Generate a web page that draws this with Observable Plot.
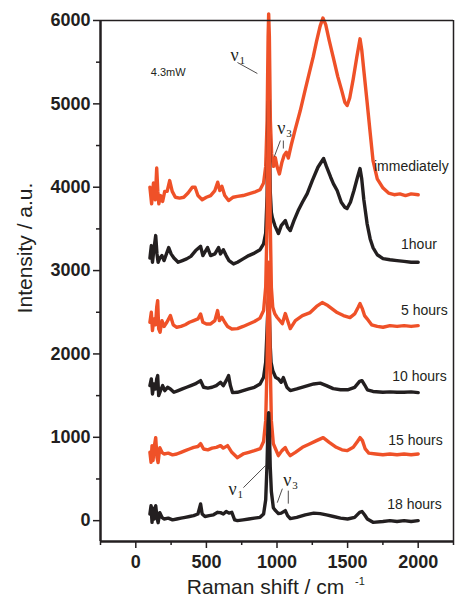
<!DOCTYPE html>
<html>
<head>
<meta charset="utf-8">
<script src="https://cdn.jsdelivr.net/npm/d3@7"></script>
<script src="https://cdn.jsdelivr.net/npm/@observablehq/plot@0.6"></script>
<style>
  html, body { margin: 0; padding: 0; background: #fff; }
  #chart { width: 457px; height: 598px; }
</style>
</head>
<body>
<div id="chart"></div>
<script>
// ---- data (Raman shift cm^-1, intensity a.u.) ----
const immediately = [
  [100,4000],[112,3800],[125,4050],[138,3850],[148,4230],[156,3950],[163,3800],[175,3900],[190,3830],[205,3950],[222,3950],[240,4080],[258,3950],[280,3880],[310,3870],[340,3880],[370,3930],[400,4000],[420,4000],[440,3900],[470,3850],[500,3880],[530,3900],[560,3960],[580,4060],[595,3960],[610,4010],[630,3900],[657,3840],[690,3880],[720,3890],[760,3900],[800,3920],[840,3940],[880,3970],[905,4050],[920,4250],[930,4800],[937,5800],[941,6080],[946,5800],[953,4800],[962,4400],[975,4250],[988,4356],[1000,4250],[1017,4160],[1035,4300],[1050,4380],[1066,4420],[1080,4350],[1100,4500],[1130,4700],[1165,4920],[1200,5170],[1230,5380],[1256,5560],[1280,5750],[1305,5930],[1325,6030],[1345,5950],[1370,5760],[1398,5560],[1430,5330],[1460,5150],[1480,5020],[1497,4980],[1515,5070],[1540,5300],[1565,5560],[1588,5780],[1600,5650],[1615,5400],[1637,5040],[1660,4650],[1680,4320],[1710,4100],[1751,3990],[1790,3930],[1830,3910],[1870,3920],[1910,3900],[1950,3920],[2000,3910]
];
const hour1 = [
  [100,3150],[110,3300],[118,3100],[128,3250],[141,3420],[150,3200],[158,3100],[170,3150],[185,3180],[200,3120],[233,3276],[250,3200],[270,3150],[300,3100],[330,3120],[360,3140],[390,3170],[424,3240],[459,3290],[475,3180],[508,3276],[530,3180],[560,3200],[586,3276],[600,3200],[620,3250],[640,3180],[660,3120],[692,3080],[720,3100],[760,3140],[800,3180],[840,3210],[880,3250],[905,3320],[920,3450],[930,3900],[936,4600],[941,5040],[946,4600],[952,3950],[960,3700],[967,3636],[985,3540],[1010,3444],[1030,3540],[1059,3600],[1075,3520],[1094,3480],[1120,3600],[1150,3720],[1180,3820],[1214,3924],[1250,4080],[1290,4240],[1330,4344],[1350,4250],[1380,4120],[1400,4040],[1426,3960],[1455,3820],[1480,3760],[1496,3744],[1520,3820],[1545,3960],[1570,4120],[1588,4224],[1600,4100],[1615,3850],[1638,3564],[1660,3380],[1680,3276],[1710,3190],[1751,3144],[1800,3130],[1850,3120],[1900,3110],[1950,3100],[2000,3100]
];
const hours5 = [
  [100,2380],[110,2500],[118,2280],[128,2420],[140,2350],[148,2560],[155,2640],[162,2300],[172,2260],[185,2400],[200,2330],[220,2380],[245,2460],[265,2350],[290,2320],[320,2330],[350,2350],[380,2380],[410,2400],[440,2420],[459,2480],[475,2380],[500,2360],[530,2360],[560,2400],[579,2520],[592,2400],[610,2440],[630,2380],[650,2330],[680,2300],[720,2304],[760,2330],[800,2360],[840,2390],[880,2430],[905,2520],[920,2800],[930,3600],[936,4600],[941,5100],[946,4600],[952,3600],[960,2800],[970,2560],[985,2480],[1000,2440],[1038,2364],[1059,2484],[1075,2400],[1094,2304],[1130,2400],[1180,2460],[1235,2496],[1280,2570],[1320,2616],[1360,2580],[1426,2496],[1470,2460],[1517,2436],[1550,2480],[1575,2560],[1588,2604],[1605,2540],[1620,2460],[1637,2424],[1670,2350],[1710,2330],[1751,2320],[1800,2340],[1850,2330],[1900,2340],[1950,2330],[2000,2340]
];
const hours10 = [
  [100,1620],[110,1700],[118,1520],[128,1640],[140,1580],[148,1700],[155,1740],[162,1500],[175,1560],[190,1620],[205,1560],[225,1600],[245,1580],[270,1540],[300,1560],[330,1580],[360,1600],[390,1620],[420,1640],[459,1680],[480,1600],[510,1590],[540,1600],[570,1620],[600,1660],[620,1620],[640,1680],[657,1740],[670,1620],[685,1536],[720,1540],[760,1560],[800,1580],[840,1600],[880,1640],[905,1720],[920,1900],[930,2300],[937,2600],[941,2676],[946,2450],[952,2100],[958,1900],[970,1800],[990,1720],[1010,1700],[1030,1660],[1045,1716],[1070,1600],[1094,1560],[1140,1580],[1200,1610],[1260,1640],[1306,1650],[1350,1620],[1398,1584],[1450,1570],[1500,1570],[1550,1600],[1585,1670],[1602,1680],[1620,1630],[1640,1570],[1680,1550],[1750,1540],[1800,1545],[1850,1540],[1900,1540],[1950,1545],[2000,1536]
];
const hours15 = [
  [100,820],[108,700],[115,900],[122,720],[130,880],[141,996],[150,760],[158,696],[170,876],[185,820],[200,800],[230,810],[260,790],[290,800],[320,820],[350,840],[380,860],[410,880],[440,890],[459,924],[480,860],[510,850],[540,870],[570,880],[600,900],[620,870],[650,900],[680,820],[720,756],[760,800],[800,820],[840,840],[882,864],[905,950],[920,1200],[930,1900],[936,2700],[941,3100],[946,2700],[952,1900],[960,1200],[974,924],[990,860],[1010,780],[1035,840],[1059,876],[1075,820],[1094,780],[1130,820],[1180,880],[1230,920],[1280,960],[1327,996],[1370,940],[1420,880],[1460,850],[1496,840],[1540,880],[1570,950],[1588,996],[1605,960],[1625,860],[1650,810],[1700,800],[1750,790],[1800,800],[1850,790],[1900,800],[1950,790],[2000,800]
];
const hours18 = [
  [100,80],[108,180],[115,-20],[122,150],[130,20],[141,180],[150,40],[158,-24],[170,96],[185,40],[200,20],[230,30],[260,10],[290,20],[320,30],[350,40],[380,50],[410,60],[440,80],[459,200],[470,80],[490,50],[520,60],[550,70],[580,100],[600,96],[620,80],[640,110],[660,90],[680,100],[700,10],[720,0],[760,10],[800,20],[840,30],[880,40],[905,80],[920,250],[930,700],[936,1150],[941,1296],[946,1100],[952,650],[960,350],[974,156],[990,120],[1010,84],[1030,90],[1059,120],[1075,60],[1094,24],[1140,40],[1200,70],[1260,90],[1306,84],[1350,70],[1400,50],[1450,30],[1500,20],[1550,40],[1585,100],[1602,110],[1620,70],[1640,20],[1680,-20],[1750,-10],[1800,0],[1850,-10],[1900,0],[1950,-10],[2000,0]
];

const seriesNames = ["immediately", "1hour", "5 hours", "10 hours", "15 hours", "18 hours"];
// label anchor (right end) in data units
const labelX = [2216, 2132, 2209, 2202, 2174, 2167];
const labelY = [4248, 3312, 2520, 1728, 960, 192];

const xTicks = [0, 500, 1000, 1500, 2000];
const xMinorTicks = [-250, 250, 750, 1250, 1750, 2250];
const yTicks = [0, 1000, 2000, 3000, 4000, 5000, 6000];
const yMinorTicks = [500, 1500, 2500, 3500, 4500, 5500];
const frameX = [-250, 2250];
const frameY = [-250, 6000];

const powerNote = {x: 106, y: 5376, text: "4.3mW"};
const nuLabels = [
  {x: 671, y: 5580, sub: "1"},
  {x: 1002, y: 4704, sub: "3"},
  {x: 656, y: 372, sub: "1"},
  {x: 1045, y: 480, sub: "3"}
];
const leaders = [
  {x1: 720, y1: 5496, x2: 861, y2: 5364},
  {x1: 1024, y1: 4560, x2: 981, y2: 4368},
  {x1: 1045, y1: 4560, x2: 1045, y2: 4464},
  {x1: 762, y1: 396, x2: 918, y2: 660},
  {x1: 1038, y1: 384, x2: 1002, y2: 216},
  {x1: 1080, y1: 360, x2: 1080, y2: 204}
];

// ---- drawing ----
const orange = "#ef5128";
const black = "#231f20";
const spectra = [immediately, hour1, hours5, hours10, hours15, hours18];
const colors = [orange, black, orange, black, orange, black];
const labels = seriesNames.map((t, i) => ({text: t, x: labelX[i], y: labelY[i]}));
const serif = "'Liberation Serif', 'Times New Roman', serif";

const chart = Plot.plot({
  width: 457,
  height: 598,
  marginLeft: 100,
  marginRight: 4,
  marginTop: 20,
  marginBottom: 57,
  style: {fontFamily: "'Liberation Sans', Arial, Helvetica, sans-serif", background: "#fff", color: black},
  x: {domain: frameX},
  y: {domain: frameY},
  marks: [
    ...spectra.map((s, i) => Plot.line(s, {x: d => d[0], y: d => d[1], stroke: colors[i], strokeWidth: 3.4, strokeLinejoin: "round"})),
    // box: thin top/right, heavier left/bottom axes
    Plot.ruleY([frameY[1]], {x1: frameX[0], x2: frameX[1], stroke: black, strokeWidth: 1.5}),
    Plot.ruleX([frameX[1]], {y1: frameY[0], y2: frameY[1], stroke: black, strokeWidth: 1.5}),
    Plot.ruleX([frameX[0]], {y1: frameY[0], y2: frameY[1], stroke: black, strokeWidth: 2.5}),
    Plot.ruleY([frameY[0]], {x1: frameX[0], x2: frameX[1], stroke: black, strokeWidth: 2.5}),
    Plot.axisY(yTicks, {tickSize: 7, tickPadding: 3, tickFormat: d => String(d), fontSize: 18, fontWeight: "bold", label: null, stroke: black, strokeWidth: 1.5, fill: black}),
    Plot.axisY(yMinorTicks, {tickSize: 4, tickFormat: () => "", label: null, stroke: black, strokeWidth: 1.5}),
    Plot.axisX(xTicks, {tickSize: 7, tickPadding: 7, tickFormat: d => String(d), fontSize: 18, fontWeight: "bold", label: null, stroke: black, strokeWidth: 1.5, fill: black}),
    Plot.axisX(xMinorTicks, {tickSize: 4, tickFormat: () => "", label: null, stroke: black, strokeWidth: 1.5}),
    Plot.text(labels, {x: "x", y: "y", text: "text", textAnchor: "end", fontSize: 14, fill: black}),
    Plot.text([powerNote], {x: "x", y: "y", text: "text", textAnchor: "start", fontSize: 11, fill: black}),
    Plot.text(nuLabels, {x: "x", y: "y", text: () => "ν", textAnchor: "start", fontFamily: serif, fontSize: 18, fill: black}),
    Plot.text(nuLabels, {x: "x", y: "y", text: "sub", textAnchor: "start", dx: 9, dy: 5, fontFamily: serif, fontSize: 11, fill: black}),
    Plot.link(leaders, {x1: "x1", y1: "y1", x2: "x2", y2: "y2", stroke: black, strokeWidth: 0.8}),
    Plot.text(["Intensity / a.u."], {frameAnchor: "left", textAnchor: "middle", lineAnchor: "middle", rotate: -90, dx: -75, dy: -33, fontSize: 21, fill: black}),
    Plot.text(["Raman shift / cm"], {frameAnchor: "bottom", textAnchor: "middle", lineAnchor: "middle", dx: -11.5, dy: 46, fontSize: 21, fill: black}),
    Plot.text(["-1"], {frameAnchor: "bottom", textAnchor: "middle", lineAnchor: "middle", dx: 83, dy: 39.5, fontSize: 11, fill: black})
  ]
});
document.getElementById("chart").appendChild(chart);
</script>
</body>
</html>
